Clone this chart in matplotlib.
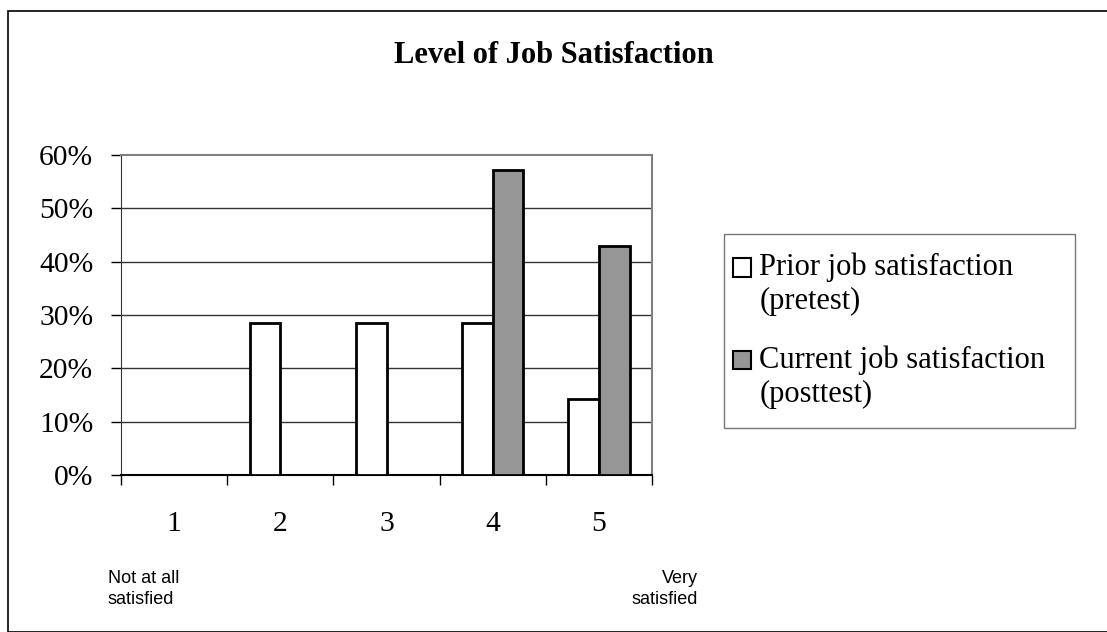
import numpy as np
import matplotlib.pyplot as plt
from matplotlib.patches import Rectangle
from matplotlib.container import BarContainer
from matplotlib.legend_handler import HandlerPatch, update_from_first_child

levels = ['1', '2', '3', '4', '5']
prior = [0, 28.57, 28.57, 28.57, 14.29]
current = [0, 0, 0, 57.14, 42.86]
yticks = [0, 10, 20, 30, 40, 50, 60]
ylabels = ['0%', '10%', '20%', '30%', '40%', '50%', '60%']


def top_square(legend, orig_handle, xdescent, ydescent, width, height, fontsize):
    # small square level with the first line of the label, nudged left
    s = 0.6 * fontsize
    return Rectangle((-xdescent - 7.1, -ydescent + height - s), s, s)


def main():
    plt.rcParams['font.family'] = 'Liberation Serif'
    fig = plt.figure(figsize=(11.07, 6.32), dpi=100)
    W, H = 1107, 632

    # outer frame
    fig.patches.append(Rectangle((8 / W, 0), 1.2, 1 - 11 / H, transform=fig.transFigure,
                                 fill=False, edgecolor='black', linewidth=1.2))

    ax = fig.add_axes([121 / W, 1 - 475 / H, (652 - 121) / W, (475 - 155) / H])
    x = np.arange(len(levels))
    w = 0.29
    ax.bar(x - w / 2, prior, w, color='white', edgecolor='black', linewidth=2,
           label='Prior job satisfaction\n(pretest)', zorder=3)
    ax.bar(x + w / 2, current, w, color='#969696', edgecolor='black', linewidth=2,
           label='Current job satisfaction\n(posttest)', zorder=3)

    ax.set_xlim(-0.5, 4.5)
    ax.set_ylim(0, 60)
    ax.set_yticks(yticks)
    ax.set_yticklabels(ylabels, fontsize=21.3)
    for yv in yticks[1:-1]:
        ax.axhline(yv, color='#333333', linewidth=1, zorder=1)

    ax.set_xticks(np.arange(-0.5, 5, 1))
    ax.set_xticklabels([])
    ax.set_xticks(x, minor=True)
    ax.set_xticklabels(levels, minor=True, fontsize=21.3)
    ax.tick_params(axis='x', which='major', length=7, direction='out', width=1)
    ax.tick_params(axis='x', which='minor', length=0, pad=26)
    ax.tick_params(axis='y', length=7, direction='out', width=1, pad=13)

    ax.spines['top'].set_color('#808080')
    ax.spines['right'].set_color('#808080')
    ax.spines['top'].set_linewidth(1.5)
    ax.spines['right'].set_linewidth(1.5)
    ax.spines['left'].set_color('#333333')
    ax.spines['bottom'].set_color('black')
    ax.spines['bottom'].set_linewidth(1.5)

    fig.text(0.5, 1 - 63 / H, 'Level of Job Satisfaction', ha='center', va='baseline',
             fontsize=22, fontweight='bold')

    fig.text(108 / W, 1 - 589 / H, 'Not at all\nsatisfied', ha='left', va='center',
             fontsize=13, family='Liberation Sans', linespacing=1.25)
    fig.text(698 / W, 1 - 589 / H, 'Very\nsatisfied', ha='right', va='center',
             fontsize=13, family='Liberation Sans', linespacing=1.25, multialignment='right')

    leg = ax.legend(loc='upper left', bbox_to_anchor=(724 / W, 1 - 423 / H, 351 / W, 189 / H),
                    bbox_transform=fig.transFigure, mode='expand', fontsize=22,
                    frameon=True, fancybox=False, handlelength=0.3, handleheight=2.4,
                    handletextpad=0.23, labelspacing=0.97, borderpad=0.62, borderaxespad=0,
                    handler_map={BarContainer: HandlerPatch(patch_func=top_square,
                                                            update_func=update_from_first_child)})
    leg.get_frame().set_edgecolor('#555555')
    leg.get_frame().set_linewidth(1)
    for p in leg.get_patches():
        p.set_linewidth(1.5)

    fig.savefig('out.png', dpi=100)


if __name__ == "__main__":
    main()
